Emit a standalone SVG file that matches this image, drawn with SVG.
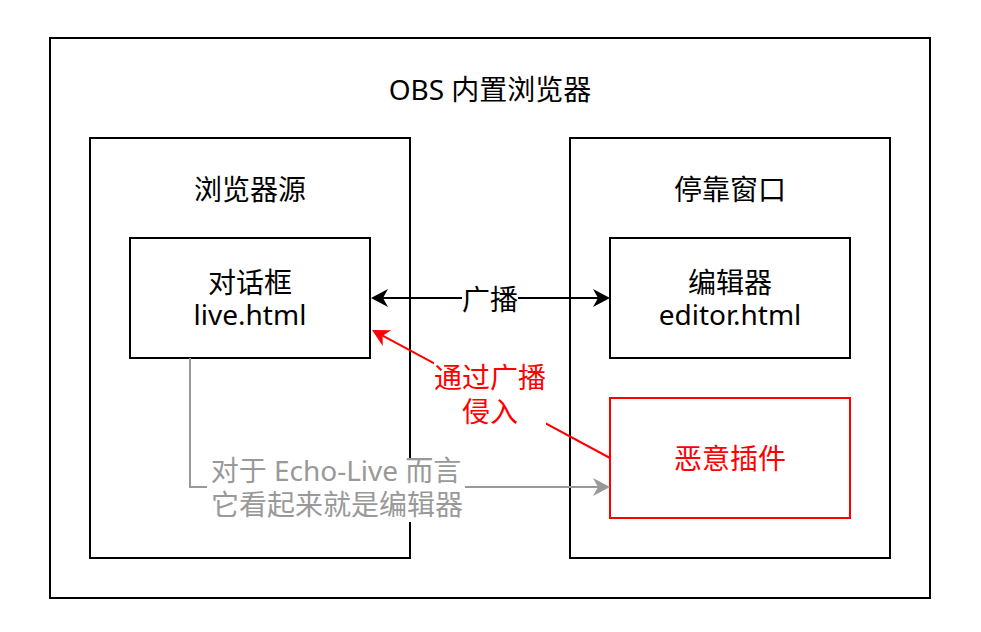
<svg xmlns="http://www.w3.org/2000/svg" width="981" height="632" viewBox="0 0 981 632">
<style>
  .box { fill: #ffffff; stroke: #000000; stroke-width: 2; }
  .rbox { fill: #ffffff; stroke: #ff0000; stroke-width: 2; }
  text { font-family: "Noto Sans", "Noto Sans CJK SC", sans-serif; font-size: 28px; text-anchor: middle; fill: #000000; }
  .red { fill: #ff0000; }
  .gray { fill: #999999; }
  .bg { fill: #ffffff; stroke: none; }
</style>
<defs>
  <marker id="ab" markerUnits="userSpaceOnUse" viewBox="-6 -10 20 20" refX="0" refY="0" markerWidth="20" markerHeight="20" orient="auto-start-reverse">
    <path d="M12,0 L-5,-9 L0,0 L-5,9 Z" fill="#000000"/>
  </marker>
  <marker id="ar" markerUnits="userSpaceOnUse" viewBox="-6 -10 20 20" refX="0" refY="0" markerWidth="20" markerHeight="20" orient="auto">
    <path d="M12,0 L-5,-9 L0,0 L-5,9 Z" fill="#ff0000"/>
  </marker>
  <marker id="ag" markerUnits="userSpaceOnUse" viewBox="-6 -10 20 20" refX="0" refY="0" markerWidth="20" markerHeight="20" orient="auto">
    <path d="M12,0 L-5,-9 L0,0 L-5,9 Z" fill="#999999"/>
  </marker>
</defs>
<rect width="981" height="632" fill="#ffffff"/>
<g id="obs">
  <rect class="box" x="50" y="38" width="880" height="560"/>
  <text x="490" y="100">OBS 内置浏览器</text>
</g>
<g id="browser-source">
  <rect class="box" x="90" y="138" width="320" height="420"/>
  <text x="250" y="200">浏览器源</text>
</g>
<g id="dock">
  <rect class="box" x="570" y="138" width="320" height="420"/>
  <text x="730" y="200">停靠窗口</text>
</g>
<g id="live">
  <rect class="box" x="130" y="238" width="240" height="120"/>
  <text x="250" y="293">对话框</text>
  <text x="250" y="325">live.html</text>
</g>
<g id="editor">
  <rect class="box" x="610" y="238" width="240" height="120"/>
  <text x="730" y="293">编辑器</text>
  <text x="730" y="325">editor.html</text>
</g>
<g id="plugin">
  <rect class="rbox" x="610" y="398" width="240" height="120"/>
  <text class="red" x="730" y="469">恶意插件</text>
</g>
<g id="connectors" fill="none" stroke-width="2">
  <line x1="383" y1="298" x2="598" y2="298" stroke="#000000" marker-start="url(#ab)" marker-end="url(#ab)"/>
  <rect class="bg" x="462" y="284" width="56" height="28"/>
  <text x="490" y="310">广播</text>

  <line x1="610" y1="458" x2="382.6" y2="335.7" stroke="#ff0000" marker-end="url(#ar)"/>
  <rect class="bg" x="434" y="362" width="112" height="66"/>
  <text class="red" x="490" y="388">通过广播</text>
  <text class="red" x="490" y="422">侵入</text>

  <polyline points="190,358 190,487 598,487" stroke="#999999" marker-end="url(#ag)"/>
  <rect class="bg" x="207" y="460" width="258" height="62"/>
  <text class="gray" x="336" y="481">对于 Echo-Live 而言</text>
  <text class="gray" x="337" y="515">它看起来就是编辑器</text>
</g>
</svg>
